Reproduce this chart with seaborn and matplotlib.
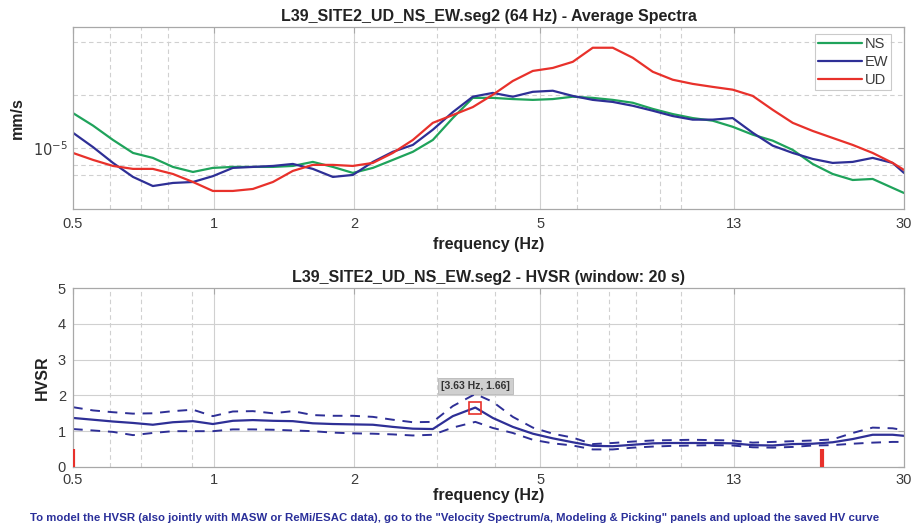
import numpy as np
import pandas as pd
import matplotlib
matplotlib.use("Agg")
import matplotlib.pyplot as plt
import seaborn as sns

# ---- frequency axis (Hz) shared by both panels ----
freq = [0.5, 0.552, 0.609, 0.672, 0.741, 0.818, 0.903, 0.996, 1.099, 1.213,
        1.339, 1.477, 1.630, 1.799, 1.985, 2.191, 2.417, 2.668, 2.944, 3.248,
        3.585, 3.956, 4.366, 4.818, 5.316, 5.867, 6.474, 7.144, 7.884, 8.700,
        9.600, 10.59, 11.69, 12.90, 14.24, 15.71, 17.34, 19.13, 21.11, 23.30,
        25.71, 28.37, 30.0]

# ---- average amplitude spectra (mm/s) ----
ns = [1.58e-5, 1.34e-5, 1.11e-5, 0.936e-5, 0.877e-5, 0.779e-5, 0.729e-5, 0.769e-5, 0.779e-5, 0.779e-5,
      0.779e-5, 0.789e-5, 0.832e-5, 0.779e-5, 0.720e-5, 0.769e-5, 0.854e-5, 0.950e-5, 1.11e-5, 1.48e-5,
      1.93e-5, 1.93e-5, 1.90e-5, 1.88e-5, 1.90e-5, 1.96e-5, 1.93e-5, 1.88e-5, 1.81e-5, 1.67e-5,
      1.56e-5, 1.48e-5, 1.43e-5, 1.32e-5, 1.19e-5, 1.10e-5, 0.974e-5, 0.810e-5, 0.710e-5, 0.656e-5,
      0.665e-5, 0.591e-5, 0.553e-5]
ew = [1.22e-5, 1.01e-5, 0.821e-5, 0.683e-5, 0.606e-5, 0.631e-5, 0.639e-5, 0.690e-5, 0.769e-5, 0.779e-5,
      0.789e-5, 0.810e-5, 0.759e-5, 0.683e-5, 0.701e-5, 0.832e-5, 0.950e-5, 1.04e-5, 1.27e-5, 1.60e-5,
      1.96e-5, 2.06e-5, 1.96e-5, 2.09e-5, 2.12e-5, 1.98e-5, 1.88e-5, 1.83e-5, 1.74e-5, 1.63e-5,
      1.52e-5, 1.45e-5, 1.45e-5, 1.48e-5, 1.22e-5, 1.03e-5, 0.936e-5, 0.865e-5, 0.821e-5, 0.832e-5,
      0.877e-5, 0.821e-5, 0.720e-5]
ud = [0.936e-5, 0.854e-5, 0.789e-5, 0.759e-5, 0.759e-5, 0.710e-5, 0.639e-5, 0.568e-5, 0.568e-5, 0.583e-5,
      0.639e-5, 0.739e-5, 0.800e-5, 0.800e-5, 0.789e-5, 0.821e-5, 0.936e-5, 1.11e-5, 1.39e-5, 1.54e-5,
      1.71e-5, 2.01e-5, 2.41e-5, 2.75e-5, 2.86e-5, 3.10e-5, 3.73e-5, 3.73e-5, 3.27e-5, 2.72e-5,
      2.45e-5, 2.32e-5, 2.23e-5, 2.15e-5, 1.98e-5, 1.65e-5, 1.39e-5, 1.25e-5, 1.14e-5, 1.04e-5,
      0.936e-5, 0.821e-5, 0.749e-5]

# ---- HVSR curve with +/- standard deviation ----
hv_freq = freq[:20] + [3.63] + freq[21:]
hv_mean = [1.37, 1.32, 1.27, 1.23, 1.18, 1.25, 1.28, 1.20, 1.29, 1.31,
           1.29, 1.28, 1.22, 1.20, 1.19, 1.18, 1.12, 1.07, 1.06, 1.42,
           1.66, 1.37, 1.12, 0.93, 0.80, 0.69, 0.59, 0.58, 0.62, 0.66,
           0.67, 0.67, 0.67, 0.66, 0.61, 0.60, 0.64, 0.65, 0.69, 0.78,
           0.90, 0.90, 0.87]
hv_upper = [1.67, 1.58, 1.53, 1.49, 1.50, 1.56, 1.60, 1.42, 1.55, 1.56,
            1.50, 1.56, 1.45, 1.43, 1.43, 1.40, 1.32, 1.25, 1.26, 1.70,
            2.04, 1.82, 1.40, 1.10, 0.93, 0.82, 0.64, 0.67, 0.71, 0.74,
            0.75, 0.76, 0.75, 0.74, 0.68, 0.70, 0.72, 0.74, 0.77, 0.95,
            1.10, 1.08, 1.03]
hv_lower = [1.06, 1.02, 0.98, 0.89, 0.95, 1.00, 1.00, 1.00, 1.05, 1.05,
            1.04, 1.02, 1.00, 0.96, 0.94, 0.93, 0.91, 0.88, 0.90, 1.10,
            1.26, 1.09, 0.95, 0.76, 0.66, 0.60, 0.49, 0.49, 0.54, 0.57,
            0.59, 0.60, 0.61, 0.60, 0.55, 0.54, 0.56, 0.60, 0.61, 0.65,
            0.68, 0.70, 0.70]

peak_f, peak_hv = 3.63, 1.66
range_marks = [0.5, 20.0]   # frequency-range limits
range_mark_height = 0.5

xticks = [0.5, 1, 2, 5, 13, 30]
xticklabels = ["0.5", "1", "2", "5", "13", "30"]

sns.set_theme(style="white")
plt.rcParams["font.family"] = ["Liberation Sans", "DejaVu Sans"]

GREEN = "#1fa35b"
BLUE = "#2e2f96"
RED = "#e8312b"
GRID = "#d0d0d0"
SPINE = "#a8a8a8"
TXT = "#3a3a3a"

fig = plt.figure(figsize=(9.17, 5.27), dpi=100)
ax1 = fig.add_axes([0.0796, 0.6034, 0.9062, 0.3454])
ax2 = fig.add_axes([0.0796, 0.1139, 0.9062, 0.3396])


def style_axis(ax):
    for s in ax.spines.values():
        s.set_color(SPINE)
        s.set_linewidth(0.9)
    ax.tick_params(axis="both", which="both", direction="in", colors=SPINE,
                   labelcolor=TXT, labelsize=10.5, top=True, right=True,
                   length=4, width=0.8)
    ax.tick_params(which="minor", length=0)


# ---- top panel: average spectra ----
spec = pd.DataFrame({
    "freq": freq * 3,
    "amp": ns + ew + ud,
    "comp": ["NS"] * len(freq) + ["EW"] * len(freq) + ["UD"] * len(freq),
})
sns.lineplot(data=spec, x="freq", y="amp", hue="comp",
             palette={"NS": GREEN, "EW": BLUE, "UD": RED},
             hue_order=["NS", "EW", "UD"], linewidth=1.6, ax=ax1,
             sort=False, estimator=None)
ax1.set_xscale("log")
ax1.set_yscale("log")
ax1.set_xlim(0.5, 30)
ax1.set_ylim(4.48e-6, 4.9e-5)

for f in [0.6, 0.7, 0.8, 3, 4, 6, 9, 10]:
    ax1.axvline(f, color=GRID, lw=0.8, ls=(0, (4, 3)), zorder=0)
for f in [1, 2, 5, 13]:
    ax1.axvline(f, color=GRID, lw=0.8, zorder=0)
for v in [7e-6, 8e-6, 1e-5, 2e-5, 4e-5]:
    ax1.axhline(v, color=GRID, lw=0.8, ls=(0, (4, 3)), zorder=0)

ax1.set_xticks(xticks)
ax1.set_xticklabels(xticklabels)
ax1.xaxis.set_minor_locator(matplotlib.ticker.NullLocator())
ax1.set_yticks([1e-5])
ax1.set_yticklabels([r"$10^{-5}$"])
ax1.yaxis.set_minor_locator(matplotlib.ticker.NullLocator())
style_axis(ax1)
ax1.tick_params(axis="x", pad=6)
ax1.set_title("L39_SITE2_UD_NS_EW.seg2 (64 Hz) - Average Spectra",
              fontsize=11.5, fontweight="bold", color="#222222", pad=4)
ax1.set_xlabel("frequency (Hz)", fontsize=11.5, fontweight="bold",
               color="#222222", labelpad=4)
ax1.set_ylabel("mm/s", fontsize=11.5, fontweight="bold", color="#222222",
               labelpad=6)
leg = ax1.legend(loc="upper right", bbox_to_anchor=(0.988, 0.975),
                 fontsize=10.5, frameon=True, fancybox=False, handlelength=3.0,
                 handletextpad=0.2, borderpad=0.2, labelspacing=0.25,
                 borderaxespad=0.2)
leg.get_frame().set_edgecolor("#bdbdbd")
leg.get_frame().set_linewidth(0.8)
for t in leg.get_texts():
    t.set_color(TXT)

# ---- bottom panel: HVSR ----
hv = pd.DataFrame({"freq": hv_freq, "mean": hv_mean,
                   "upper": hv_upper, "lower": hv_lower})
sns.lineplot(data=hv, x="freq", y="mean", color=BLUE, linewidth=1.6,
             ax=ax2, sort=False, estimator=None)
sns.lineplot(data=hv, x="freq", y="upper", color=BLUE, linewidth=1.4,
             ax=ax2, sort=False, estimator=None, linestyle=(0, (5, 4)))
sns.lineplot(data=hv, x="freq", y="lower", color=BLUE, linewidth=1.4,
             ax=ax2, sort=False, estimator=None, linestyle=(0, (5, 4)))
ax2.set_xscale("log")
ax2.set_xlim(0.5, 30)
ax2.set_ylim(0, 5)

for f in [0.6, 0.7, 0.9, 3, 4, 6, 7, 8, 10]:
    ax2.axvline(f, color=GRID, lw=0.8, ls=(0, (4, 3)), zorder=0)
for f in [1, 2, 5, 13]:
    ax2.axvline(f, color=GRID, lw=0.8, zorder=0)
for v in [1, 2, 3, 4]:
    ax2.axhline(v, color=GRID, lw=0.8, zorder=0)

for f in range_marks:
    ax2.plot([f, f], [0, range_mark_height], color=RED, lw=3,
             solid_capstyle="butt", zorder=4)

ax2.plot([peak_f], [peak_hv], marker="s", ms=8, mfc="none", mec=RED,
         mew=1.2, zorder=5)
ax2.text(peak_f, 2.27, f"[{peak_f:.2f} Hz, {peak_hv:.2f}]", ha="center",
         va="center", fontsize=7.5, fontweight="bold", color="#333333",
         bbox=dict(boxstyle="square,pad=0.3", fc="#cfcfcf", ec="#b8b8b8",
                   lw=0.6), zorder=6)

ax2.set_xticks(xticks)
ax2.set_xticklabels(xticklabels)
ax2.xaxis.set_minor_locator(matplotlib.ticker.NullLocator())
ax2.set_yticks([0, 1, 2, 3, 4, 5])
style_axis(ax2)
ax2.tick_params(axis="x", pad=4)
ax2.tick_params(axis="y", pad=5)
ax2.set_title("L39_SITE2_UD_NS_EW.seg2 - HVSR (window: 20 s)",
              fontsize=11.5, fontweight="bold", color="#222222", pad=4)
ax2.set_xlabel("frequency (Hz)", fontsize=11.5, fontweight="bold",
               color="#222222", labelpad=1)
ax2.set_ylabel("HVSR", fontsize=11.5, fontweight="bold", color="#222222",
               labelpad=6)

fig.text(0.033, 0.017,
         'To model the HVSR (also jointly with MASW or ReMi/ESAC data), go to the '
         '"Velocity Spectrum/a, Modeling & Picking" panels and upload the saved HV curve',
         fontsize=8.2, fontweight="bold", color="#2a2f9a", ha="left", va="center")

fig.savefig("out.png", dpi=100, facecolor="white")
